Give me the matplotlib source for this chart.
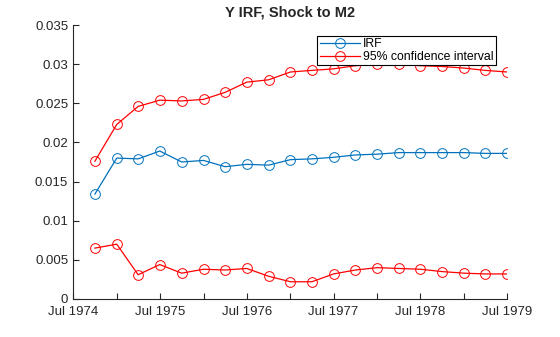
import numpy as np
import pandas as pd
import matplotlib
matplotlib.use("Agg")
import matplotlib.pyplot as plt
import matplotlib.dates as mdates

plt.rcParams['font.family'] = ['Liberation Sans', 'DejaVu Sans']

# quarterly horizons, Oct 1974 .. Jul 1979
dates = pd.date_range('1974-10-01', periods=20, freq='QS')

irf = [0.0134, 0.0180, 0.0179, 0.0189, 0.0175, 0.0177, 0.0169, 0.0172, 0.0171, 0.0178,
       0.0179, 0.0181, 0.0184, 0.0185, 0.0187, 0.0187, 0.0187, 0.0187, 0.0186, 0.0186]
upper = [0.0176, 0.0223, 0.0246, 0.0254, 0.0253, 0.0255, 0.0264, 0.0277, 0.0280, 0.0290,
         0.0292, 0.0294, 0.0298, 0.0300, 0.0300, 0.0298, 0.0297, 0.0295, 0.0292, 0.0290]
lower = [0.0065, 0.0070, 0.0031, 0.0044, 0.0033, 0.0038, 0.0037, 0.0039, 0.0029, 0.0022,
         0.0022, 0.0032, 0.0037, 0.0040, 0.0039, 0.0038, 0.0035, 0.0033, 0.0032, 0.0032]

blue = '#0072BD'
axc = '#262626'

fig = plt.figure(figsize=(5.6, 3.37), dpi=100)
ax = fig.add_axes([0.1304, 0.1128, 0.775, 0.813])

mk = dict(marker='o', markersize=7, markerfacecolor='none', markeredgewidth=0.7, linewidth=0.9)
ax.plot(dates, irf, color=blue, label='IRF', **mk)
ax.plot(dates, upper, color='red', label='95% confidence interval', **mk)
ax.plot(dates, lower, color='red', **mk)

ax.set_xlim(pd.Timestamp('1974-07-01'), pd.Timestamp('1979-07-01'))
ax.set_ylim(0, 0.035)
ax.set_yticks(np.arange(0, 0.0351, 0.005))
ax.set_yticklabels(['0', '0.005', '0.01', '0.015', '0.02', '0.025', '0.03', '0.035'])

ax.xaxis.set_major_locator(mdates.MonthLocator(bymonth=7))
ax.xaxis.set_major_formatter(mdates.DateFormatter('Jul %Y'))
ax.xaxis.set_minor_locator(mdates.MonthLocator(bymonth=1))

for s in ['top', 'right']:
    ax.spines[s].set_visible(False)
for s in ['left', 'bottom']:
    ax.spines[s].set_color(axc)
    ax.spines[s].set_linewidth(0.8)

ax.tick_params(which='both', direction='in', length=4, width=0.8, color=axc,
               labelsize=9.5, labelcolor=axc)
ax.tick_params(axis='x', pad=5)

ax.set_title('Y IRF, Shock to M2', fontsize=10.5, fontweight='bold', color=axc, pad=6)

leg = ax.legend(loc='upper left', bbox_to_anchor=(0.563, 0.96), fontsize=8.8,
                frameon=True, fancybox=False, edgecolor='black', framealpha=1,
                handlelength=3.3, handletextpad=0.2, borderpad=0.2, labelspacing=0.05,
                borderaxespad=0)
leg.get_frame().set_linewidth(0.8)

fig.savefig('out.png', dpi=100)
